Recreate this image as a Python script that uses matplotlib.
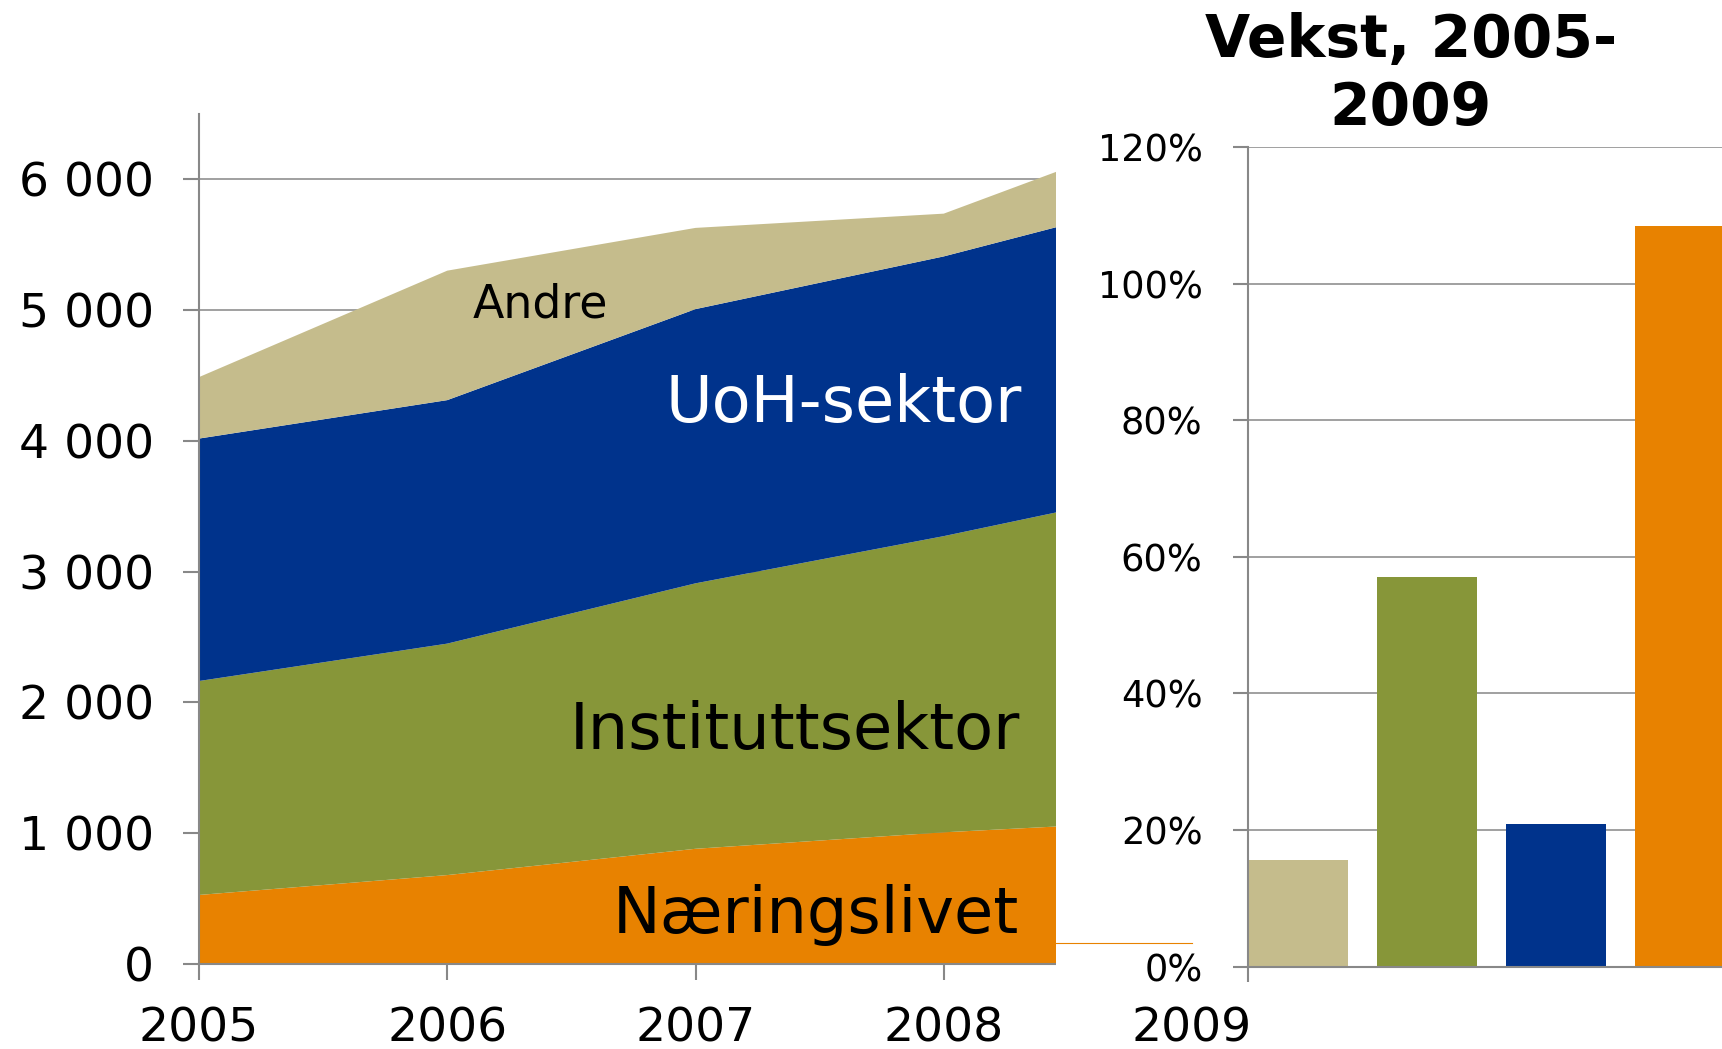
import matplotlib
matplotlib.use("Agg")
import matplotlib.pyplot as plt
from matplotlib.patches import Rectangle
from matplotlib.lines import Line2D
from matplotlib.ticker import FuncFormatter, PercentFormatter

# data
years = [2005, 2006, 2007, 2008, 2009]
naeringslivet = [528, 680, 881, 1007, 1105]
instituttsektor = [1636, 1770, 2030, 2265, 2567]
uoh_sektor = [1854, 1862, 2097, 2139, 2232]
andre = [470, 990, 621, 327, 540]

vekst_kategorier = ["Andre", "Instituttsektor", "UoH-sektor", "Næringslivet"]
vekst = [0.156, 0.571, 0.209, 1.084]

c_tan = "#C5BC8C"
c_green = "#879639"
c_blue = "#00338C"
c_orange = "#E88200"
grey = "#888888"

W, H = 1722, 1049
plt.rcParams["font.family"] = ["DejaVu Sans"]
fig = plt.figure(figsize=(W / 100, H / 100), dpi=100)


def fx(px):
    return px / W


def fy(py):
    return 1 - py / H


# left: stacked area
ax = fig.add_axes([fx(199), fy(964), fx(1192 - 199), (964 - 114) / H], zorder=0)
ax.stackplot(years, naeringslivet, instituttsektor, uoh_sektor, andre,
             colors=[c_orange, c_green, c_blue, c_tan], linewidth=0)
ax.set_xlim(2005, 2009)
ax.set_ylim(0, 6500)
ax.set_xticks(years)
ax.set_yticks(range(0, 7000, 1000))
ax.yaxis.set_major_formatter(FuncFormatter(lambda v, p: f"{v:,.0f}".replace(",", " ")))
ax.grid(axis="y", color="#A0A0A0", lw=1.4)
ax.set_axisbelow(True)
for s in ["top", "right"]:
    ax.spines[s].set_visible(False)
for s in ["left", "bottom"]:
    ax.spines[s].set_color(grey)
    ax.spines[s].set_linewidth(1.5)
ax.tick_params(axis="both", direction="out", length=11.5, width=1.5, color=grey, labelsize=34)
ax.tick_params(axis="y", pad=21)
ax.tick_params(axis="x", pad=19)

# white part of the second chart covering the tail of the areas
fig.add_artist(Rectangle((fx(1056), fy(982)), 1 - fx(1056), 1 - fy(982),
                         transform=fig.transFigure, facecolor="white", edgecolor="none", zorder=1))
fig.add_artist(Line2D([fx(1056), fx(1192)], [fy(943), fy(943)], transform=fig.transFigure,
                      color=c_orange, lw=0.8, zorder=1.5))

# labels inside the areas
fig.text(fx(540), fy(317), "Andre", fontsize=33, ha="center", va="baseline", color="black")
fig.text(fx(1022), fy(422), "UoH-sektor", fontsize=46, ha="right", va="baseline", color="white")
fig.text(fx(1020), fy(749), "Instituttsektor", fontsize=46, ha="right", va="baseline", color="black")
fig.text(fx(1019), fy(933), "Næringslivet", fontsize=46, ha="right", va="baseline", color="black")

# right: growth bars
ax2 = fig.add_axes([fx(1247.6), fy(966.7), 1 - fx(1247.6), (966.7 - 147) / H], zorder=2)
ax2.set_facecolor("none")
xpos = list(range(len(vekst)))
ax2.bar(xpos, vekst, width=0.775, color=[c_tan, c_green, c_blue, c_orange])
ax2.set_xlim(-0.39, 3.287)
ax2.set_ylim(0, 1.2)
ax2.set_yticks([0, 0.2, 0.4, 0.6, 0.8, 1.0, 1.2])
ax2.yaxis.set_major_formatter(PercentFormatter(1.0, decimals=0))
ax2.set_xticks([-0.39])
ax2.set_xticklabels([""])
ax2.grid(axis="y", color="#A0A0A0", lw=1.4)
ax2.set_axisbelow(True)
for s in ["top", "right"]:
    ax2.spines[s].set_visible(False)
for s in ["left", "bottom"]:
    ax2.spines[s].set_color(grey)
    ax2.spines[s].set_linewidth(1.5)
ax2.tick_params(axis="both", direction="out", length=10.5, width=1.5, color=grey, labelsize=26.5)
ax2.tick_params(axis="y", pad=22)

fig.text(fx(1411), fy(57), "Vekst, 2005-", fontsize=42, fontweight="bold", ha="center", va="baseline")
fig.text(fx(1411), fy(125), "2009", fontsize=42, fontweight="bold", ha="center", va="baseline")

fig.savefig("out.png", dpi=100, facecolor="white")
